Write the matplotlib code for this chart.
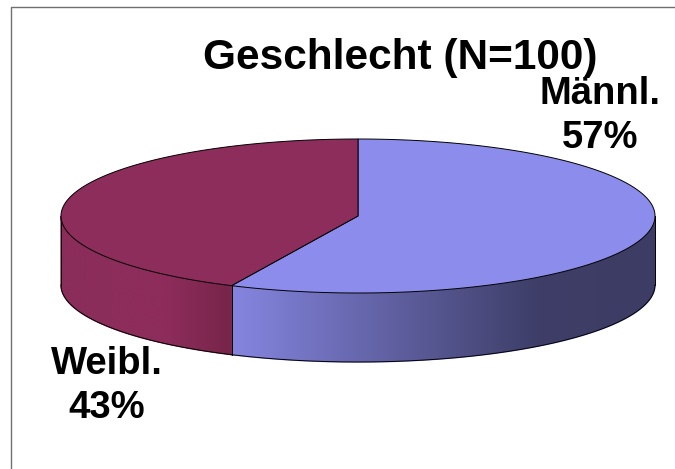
import numpy as np
import matplotlib
matplotlib.use("Agg")
import matplotlib.pyplot as plt
from matplotlib.colors import LinearSegmentedColormap
from matplotlib.patches import Polygon

title = "Geschlecht (N=100)"
categories = ["Männl.", "Weibl."]
values = [57, 43]

W, H = 675, 469
plt.rcParams["font.family"] = ["Liberation Sans", "DejaVu Sans"]
fig = plt.figure(figsize=(W / 100, H / 100), dpi=100, facecolor="white")
ax = fig.add_axes([0, 0, 1, 1])
ax.axis("off")

cx, cy, rx, ry, depth = 358, 216, 297, 77, 69
fracs = np.array(values) / sum(values)
a0 = -90
a1 = a0 + 360 * fracs[0]

def pt(a):
    t = np.radians(a)
    return cx + rx * np.cos(t), cy + ry * np.sin(t)

top_colors = ["#8C8CEC", "#8C2D5B"]
sides = [
    LinearSegmentedColormap.from_list("m", [(0, "#8585E0"), (0.72, "#3E3E68"), (1, "#3C3C64")]),
    LinearSegmentedColormap.from_list("w", [(0, "#8A2D5A"), (0.6, "#8E2D5C"), (1, "#772549")]),
]
starts = [a0, a1]
ends = [a1, a0 + 360]

for s, e, col, cmap in zip(starts, ends, top_colors, sides):
    lo, hi = None, None
    for off in (0, -360):
        l, h = max(s + off, 0), min(e + off, 180)
        if h > l:
            lo, hi = l, h
    if lo is not None:
        ts = np.linspace(lo, hi, 300)
        xs, ys = pt(ts)
        x0, x1 = xs.min(), xs.max()
        wall = np.r_[np.c_[xs, ys], np.c_[xs, ys + depth][::-1]]
        under = Polygon(wall, closed=True, facecolor=cmap(0.0), edgecolor=cmap(0.0), lw=1.0, zorder=1.5)
        ax.add_patch(under)
        clip = Polygon(wall, closed=True, transform=ax.transData, facecolor="none", edgecolor="none")
        ax.add_patch(clip)
        im = ax.imshow(np.linspace(0, 1, 512)[None, :], cmap=cmap, aspect="auto",
                       extent=(x0, x1, ys.max() + depth + 2, ys.min() - 2), zorder=2)
        im.set_clip_path(clip)
        ax.plot(xs, ys + depth, color="black", lw=0.7, zorder=3)
        for a in (lo, hi):
            x, y = pt(a)
            ax.plot([x, x], [y, y + depth], color="black", lw=0.7, zorder=3)
    ts = np.linspace(s, e, 300)
    xs, ys = pt(ts)
    ax.fill(np.r_[cx, xs], np.r_[cy, ys], facecolor=col, edgecolor="black", lw=0.7, zorder=4)

ax.plot([11, 11, W], [H, 7.5, 7.5], color="#707070", lw=1.0, zorder=1)

ax.text(400, 58, title, ha="center", va="center", fontsize=30.5, fontweight="bold", zorder=5)
ax.text(600, 116, f"{categories[0]}\n{values[0]}%", ha="center", va="center",
        fontsize=27.5, fontweight="bold", linespacing=1.32, zorder=5)
ax.text(107, 386, f"{categories[1]}\n{values[1]}%", ha="center", va="center",
        fontsize=27.5, fontweight="bold", linespacing=1.32, zorder=5)

ax.set_xlim(0, W)
ax.set_ylim(H, 0)
fig.savefig("out.png", dpi=100)
